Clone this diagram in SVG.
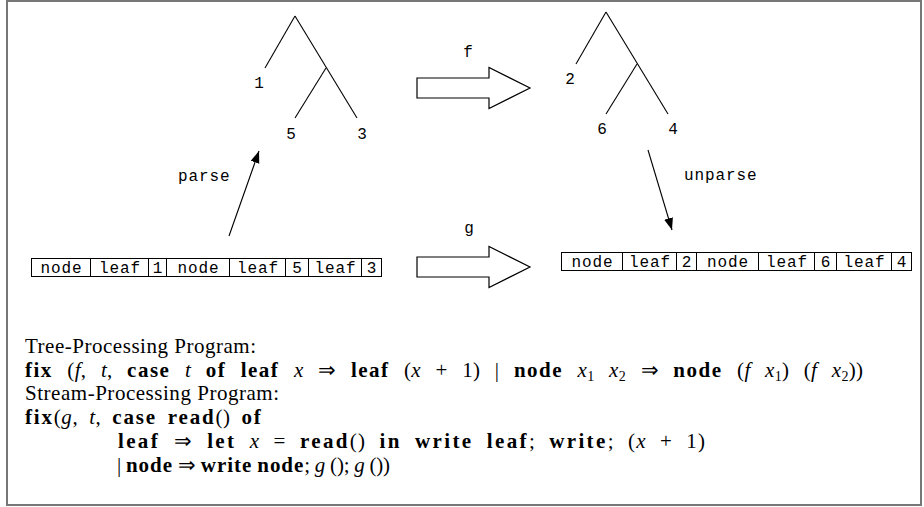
<svg xmlns="http://www.w3.org/2000/svg" width="924" height="507" viewBox="0 0 924 507">
<defs>
<style>
.frame{fill:#fff;stroke:#777;stroke-width:2}
.ln{stroke:#000;stroke-width:1.1;fill:none}
.hollow{fill:#fff;stroke:#000;stroke-width:1.2;stroke-linejoin:miter}
.cell{fill:#fff;stroke:#000;stroke-width:1}
.mono{font-family:"Liberation Mono","Courier New",monospace;font-size:16px;fill:#000}
.mid{text-anchor:middle}
.tx{font-family:"Liberation Serif","Times New Roman",serif;font-size:21px;fill:#000}
.b{font-weight:bold;letter-spacing:1.2px}
.i{font-style:italic}
.sub{font-size:14px}
</style>
<marker id="ah" markerUnits="userSpaceOnUse" markerWidth="13" markerHeight="10" refX="12" refY="4.5" orient="auto">
<path d="M0,0 L12,4.5 L0,9 z" fill="#000"/>
</marker>
</defs>
<rect class="frame" x="7" y="1" width="914" height="504"/>

<g id="connectors">
<g id="tree-left-edges">
<line class="ln" x1="295" y1="16" x2="265" y2="68"/>
<line class="ln" x1="295" y1="16" x2="357" y2="118"/>
<line class="ln" x1="326" y1="68" x2="295" y2="118"/>
</g>
<g id="tree-right-edges">
<line class="ln" x1="606" y1="12" x2="576" y2="64"/>
<line class="ln" x1="606" y1="12" x2="668" y2="114"/>
<line class="ln" x1="637" y1="64" x2="606" y2="114"/>
</g>
<line id="parse-arrow" class="ln" x1="229" y1="236" x2="259" y2="151" marker-end="url(#ah)"/>
<line id="unparse-arrow" class="ln" x1="648" y1="150" x2="672" y2="230" marker-end="url(#ah)"/>
<polygon id="f-arrow" class="hollow" points="417,78 489,78 489,67.5 530,88 489,108.5 489,98 417,98"/>
<polygon id="g-arrow" class="hollow" points="417,257 489,257 489,246.5 530,267 489,287.5 489,277 417,277"/>
<text class="mono" x="178" y="181" letter-spacing="0.9">parse</text>
<text class="mono" x="684" y="180" letter-spacing="0.9">unparse</text>
<text class="mono mid" x="468" y="57">f</text>
<text class="mono mid" x="469" y="233">g</text>
</g>

<g id="tree-left">
<text class="mono mid" x="259" y="88">1</text>
<text class="mono mid" x="291" y="139">5</text>
<text class="mono mid" x="362" y="139">3</text>
</g>
<g id="tree-right">
<text class="mono mid" x="570" y="84">2</text>
<text class="mono mid" x="602" y="134">6</text>
<text class="mono mid" x="673" y="134">4</text>
</g>

<g id="stream-left" transform="translate(31.5,258.5)">
<rect class="cell" x="0" y="0" width="59" height="18"/>
<rect class="cell" x="59" y="0" width="58" height="18"/>
<rect class="cell" x="117" y="0" width="18" height="18"/>
<rect class="cell" x="135" y="0" width="63" height="18"/>
<rect class="cell" x="198" y="0" width="56" height="18"/>
<rect class="cell" x="254" y="0" width="23" height="18"/>
<rect class="cell" x="277" y="0" width="53" height="18"/>
<rect class="cell" x="330" y="0" width="20" height="18"/>
<text class="mono mid" y="14" letter-spacing="0.9"><tspan x="30">node</tspan><tspan x="88.5">leaf</tspan><tspan x="126.5">1</tspan><tspan x="167">node</tspan><tspan x="226.5">leaf</tspan><tspan x="266">5</tspan><tspan x="304">leaf</tspan><tspan x="340.5">3</tspan></text>
</g>

<g id="stream-right" transform="translate(561.5,252.5)">
<rect class="cell" x="0" y="0" width="61" height="18"/>
<rect class="cell" x="61" y="0" width="54" height="18"/>
<rect class="cell" x="115" y="0" width="20" height="18"/>
<rect class="cell" x="135" y="0" width="62" height="18"/>
<rect class="cell" x="197" y="0" width="56" height="18"/>
<rect class="cell" x="253" y="0" width="22" height="18"/>
<rect class="cell" x="275" y="0" width="55" height="18"/>
<rect class="cell" x="330" y="0" width="20" height="18"/>
<text class="mono mid" y="14" letter-spacing="0.9"><tspan x="31">node</tspan><tspan x="88.5">leaf</tspan><tspan x="125.5">2</tspan><tspan x="166.5">node</tspan><tspan x="225.5">leaf</tspan><tspan x="264.5">6</tspan><tspan x="303">leaf</tspan><tspan x="340.5">4</tspan></text>
</g>

<g id="program-text">
<text class="tx" x="25" y="353" textLength="231" lengthAdjust="spacing">Tree-Processing Program:</text>
<text class="tx" x="25" y="377" word-spacing="9" textLength="838" lengthAdjust="spacing"><tspan class="b">fix</tspan> (<tspan class="i">f</tspan>, <tspan class="i">t</tspan>, <tspan class="b">case</tspan> <tspan class="i">t</tspan> <tspan class="b">of</tspan> <tspan class="b">leaf</tspan> <tspan class="i">x</tspan> ⇒ <tspan class="b">leaf</tspan> (<tspan class="i">x</tspan> + 1) | <tspan class="b">node</tspan> <tspan class="i">x</tspan><tspan class="sub" dy="4">1</tspan><tspan dy="-4"> </tspan><tspan class="i">x</tspan><tspan class="sub" dy="4">2</tspan><tspan dy="-4"> ⇒ </tspan><tspan class="b">node</tspan> (<tspan class="i">f</tspan> <tspan class="i">x</tspan><tspan class="sub" dy="4">1</tspan><tspan dy="-4">) (</tspan><tspan class="i">f</tspan> <tspan class="i">x</tspan><tspan class="sub" dy="4">2</tspan><tspan dy="-4">))</tspan></text>
<text class="tx" x="25" y="400" textLength="254" lengthAdjust="spacing">Stream-Processing Program:</text>
<text class="tx" x="25" y="424" word-spacing="5" textLength="237" lengthAdjust="spacing"><tspan class="b">fix</tspan>(<tspan class="i">g</tspan>, <tspan class="i">t</tspan>, <tspan class="b">case</tspan> <tspan class="b">read</tspan>() <tspan class="b">of</tspan></text>
<text class="tx" x="118" y="448" word-spacing="7" textLength="587" lengthAdjust="spacing"><tspan class="b">leaf</tspan><tspan dx="14">⇒</tspan><tspan class="b" dx="14">let</tspan> <tspan class="i">x</tspan> = <tspan class="b">read</tspan>() <tspan class="b">in</tspan> <tspan class="b">write</tspan> <tspan class="b">leaf</tspan>; <tspan class="b">write</tspan>; (<tspan class="i">x</tspan> + 1)</text>
<text class="tx" x="117" y="472" textLength="273" lengthAdjust="spacing">| <tspan class="b">node</tspan> ⇒ <tspan class="b">write</tspan> <tspan class="b">node</tspan>; <tspan class="i">g</tspan> (); <tspan class="i">g</tspan> ())</text>
</g>
</svg>
